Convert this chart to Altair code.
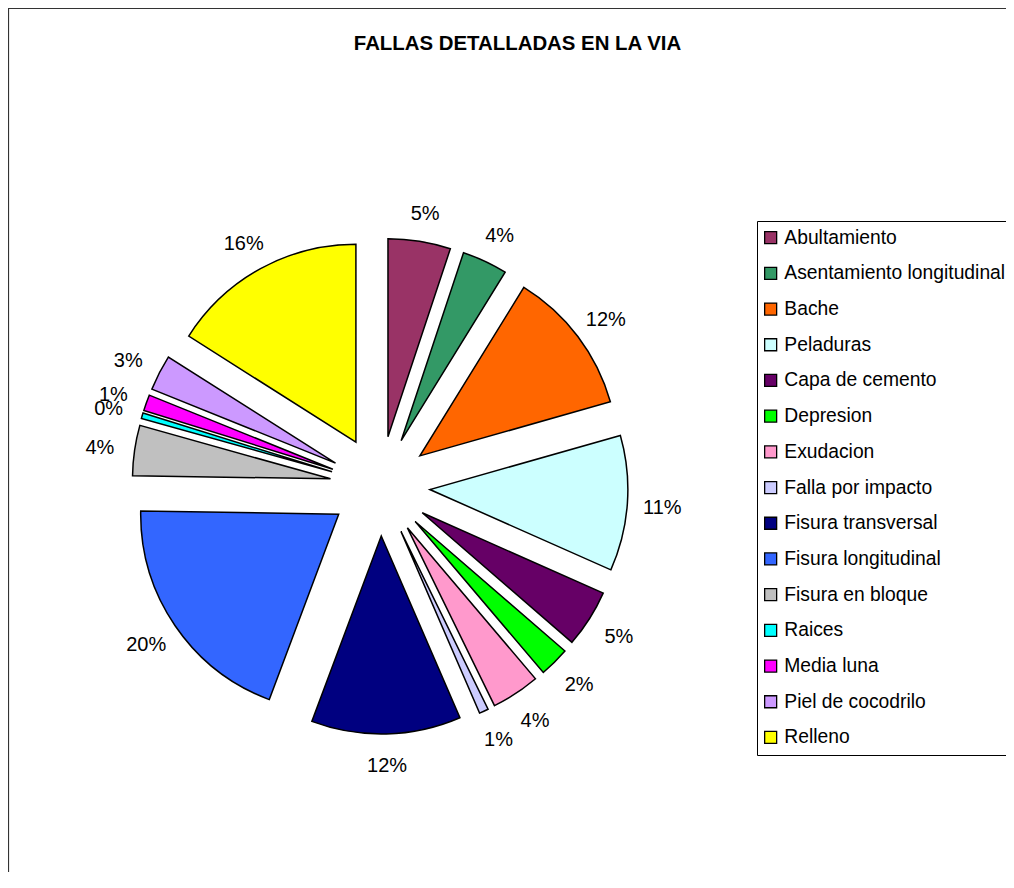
import altair as alt
import pandas as pd

# ---- data ----
categorias = [
    "Abultamiento", "Asentamiento longitudinal", "Bache", "Peladuras",
    "Capa de cemento", "Depresion", "Exudacion", "Falla por impacto",
    "Fisura transversal", "Fisura longitudinal", "Fisura en bloque",
    "Raices", "Media luna", "Piel de cocodrilo", "Relleno",
]
valores = [5.1, 3.7, 11.8, 11.05, 4.7, 2.45, 3.95, 0.75,
           12.2, 19.55, 4.1, 0.45, 1.3, 2.9, 16.0]
colores = [
    "#993366", "#339966", "#FF6600", "#CCFFFF", "#660066", "#00FF00",
    "#FF99CC", "#CCCCFF", "#000080", "#3366FF", "#C0C0C0", "#00FFFF",
    "#FF00FF", "#CC99FF", "#FFFF00",
]
titulo = "FALLAS DETALLADAS EN LA VIA"

df = pd.DataFrame({"falla": categorias, "valor": valores,
                   "orden": list(range(len(categorias)))})

# ---- layout constants (view coordinates) ----
W, H = 998, 864
CX, CY = 372, 478       # pie centre
EXPLODE = 50            # radial displacement of each slice
R = 198                 # pie radius
LCX, LCY = 372, 480     # centre of the label ring
RLX, RLY = 283, 278     # label ring radii
FONT = "Liberation Sans"

base = (
    alt.Chart(df)
    .transform_joinaggregate(total="sum(valor)")
    .transform_window(acum="sum(valor)", sort=[alt.SortField("orden")], frame=[None, 0])
    .transform_calculate(
        t0="2*PI*(datum.acum - datum.valor)/datum.total",
        t1="2*PI*datum.acum/datum.total",
    )
    .transform_calculate(mid="(datum.t0 + datum.t1)/2")
    .transform_calculate(
        cx=f"{CX} + {EXPLODE}*sin(datum.mid)",
        cy=f"{CY} - {EXPLODE}*cos(datum.mid)",
        lx=f"{LCX} + {RLX}*sin(datum.mid)",
        ly=f"{LCY} - {RLY}*cos(datum.mid)",
        pct="datum.valor/datum.total",
    )
)

arcs = base.mark_arc(radius=R, stroke="black", strokeWidth=1.5).encode(
    x=alt.X("cx:Q", scale=None, axis=None),
    y=alt.Y("cy:Q", scale=None, axis=None),
    theta=alt.Theta("t0:Q", scale=None),
    theta2="t1:Q",
    color=alt.Color(
        "falla:N",
        scale=alt.Scale(domain=categorias, range=colores),
        legend=alt.Legend(
            title=None, orient="none", legendX=749, legendY=213,
            labelFont=FONT, labelFontSize=19.3, labelColor="black",
            labelLimit=400, labelOffset=4,
            symbolType="square", symbolSize=144, symbolOffset=-3,
            symbolStrokeColor="black", symbolStrokeWidth=1.3,
            fillColor="white", strokeColor="black",
            padding=7, rowPadding=15.7,
        ),
    ),
)

labels = base.mark_text(font=FONT, fontSize=20, color="black").encode(
    x=alt.X("lx:Q", scale=None, axis=None),
    y=alt.Y("ly:Q", scale=None, axis=None),
    text=alt.Text("pct:Q", format=".0%"),
)

frame = alt.Chart(pd.DataFrame({"f": [0]})).mark_rect(
    fillOpacity=0, stroke="#333333", strokeWidth=1.2
).encode(
    x=alt.value(0.5), x2=alt.value(3000), y=alt.value(0.5), y2=alt.value(3000)
)

chart = (
    alt.layer(frame, arcs, labels)
    .properties(
        width=W, height=H, padding=0,
        autosize=alt.AutoSizeParams(type="none"),
        title=alt.TitleParams(
            titulo, font=FONT, fontSize=20.4, fontWeight="bold", color="black",
            anchor="middle", offset=-46, dx=10.5,
        ),
    )
    .configure_view(strokeWidth=0)
)

chart.save("out.html", embed_options={"renderer": "svg", "actions": False})
